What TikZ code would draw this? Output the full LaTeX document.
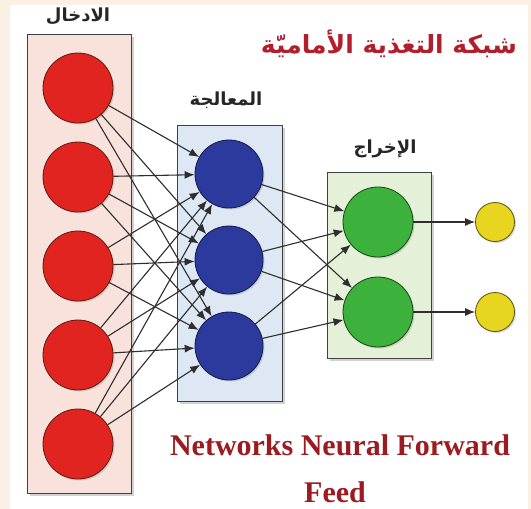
\documentclass[tikz,border=0pt]{standalone}
\usepackage{fontspec}
\setmainfont{Liberation Serif}
\newfontfamily\arabicfont[Script=Arabic]{DejaVu Sans}
\TeXXeTstate=1
\usetikzlibrary{arrows.meta,shadows}
\definecolor{beige}{RGB}{251,240,228}
\definecolor{inboxfill}{RGB}{250,226,220}
\definecolor{hidboxfill}{RGB}{221,232,244}
\definecolor{outboxfill}{RGB}{228,240,216}
\definecolor{redn}{RGB}{226,36,33}
\definecolor{redd}{RGB}{90,26,16}
\definecolor{bluen}{RGB}{44,58,158}
\definecolor{blued}{RGB}{20,24,70}
\definecolor{greenn}{RGB}{60,178,60}
\definecolor{greend}{RGB}{20,70,20}
\definecolor{yellown}{RGB}{232,213,32}
\definecolor{yellowd}{RGB}{90,80,10}
\definecolor{titlered}{RGB}{178,30,44}
\definecolor{engred}{RGB}{155,27,32}
\begin{document}
\begin{tikzpicture}[x=1pt,y=-1pt,
  layerbox/.style={draw=black!75, line width=1pt, minimum width=104pt, anchor=north west, inner sep=0pt,
    drop shadow={shadow xshift=2pt, shadow yshift=-2pt, opacity=0.35}},
  neuron/.style={circle, line width=0.8pt, inner sep=0pt,
    drop shadow={shadow xshift=1.5pt, shadow yshift=-1.5pt, opacity=0.3}},
  inneuron/.style={neuron, fill=redn, draw=redd, minimum size=70pt},
  hidneuron/.style={neuron, fill=bluen, draw=blued, minimum size=68pt},
  outneuron/.style={neuron, fill=greenn, draw=greend, minimum size=70pt},
  finneuron/.style={neuron, fill=yellown, draw=yellowd, minimum size=39pt},
  conn/.style={-{Latex[length=10pt,width=8pt]}, line width=1.1pt, draw=black!82},
  arlabel/.style={font=\arabicfont\bfseries\fontsize{18}{22}\selectfont, text=black!85},
  englabel/.style={font=\bfseries\fontsize{30}{34}\selectfont, text=engred},
]
\useasboundingbox (0,0) rectangle (531,509);
\fill[beige] (0,0) rectangle (531,509);
\fill[white] (10,5) rectangle (528,509);

% layer boxes
\node[layerbox, fill=inboxfill, minimum height=459pt] (inbox) at (27,34) {};
\node[layerbox, fill=hidboxfill, minimum width=105pt, minimum height=276pt] (hidbox) at (177,125) {};
\node[layerbox, fill=outboxfill, minimum height=186pt] (outbox) at (327,172) {};

% neurons
\foreach \i/\y in {1/88,2/177,3/266,4/355,5/444}
  \node[inneuron] (i\i) at (78,\y) {};
\foreach \j/\y in {1/174,2/260,3/346}
  \node[hidneuron] (h\j) at (229,\y) {};
\foreach \k/\y in {1/222,2/312}
  \node[outneuron] (o\k) at (378,\y) {};
\foreach \k/\y in {1/222,2/312}
  \node[finneuron] (f\k) at (495,\y) {};

% connections
\foreach \i in {1,...,5}
  \foreach \j in {1,2,3}
    \draw[conn] (i\i) -- (h\j);
\foreach \j in {1,2,3}
  \foreach \k in {1,2}
    \draw[conn] (h\j) -- (o\k);
\foreach \k in {1,2}
  \draw[conn] (o\k) -- (f\k);

% labels
\node[arlabel] (linput) at (78,16) {\beginR الادخال\endR};
\node[arlabel] (lhidden) at (226,100) {\beginR المعالجة\endR};
\node[arlabel] (loutput) at (385,149) {\beginR الإخراج\endR};
\node[font=\arabicfont\bfseries\fontsize{25}{30}\selectfont, text=titlered] (title) at (389,44) {\beginR شبكة التغذية الأماميّة\endR};
\node[englabel] (eng1) at (340,445) {Networks Neural Forward};
\node[englabel] (eng2) at (335,492) {Feed};
\end{tikzpicture}
\end{document}
